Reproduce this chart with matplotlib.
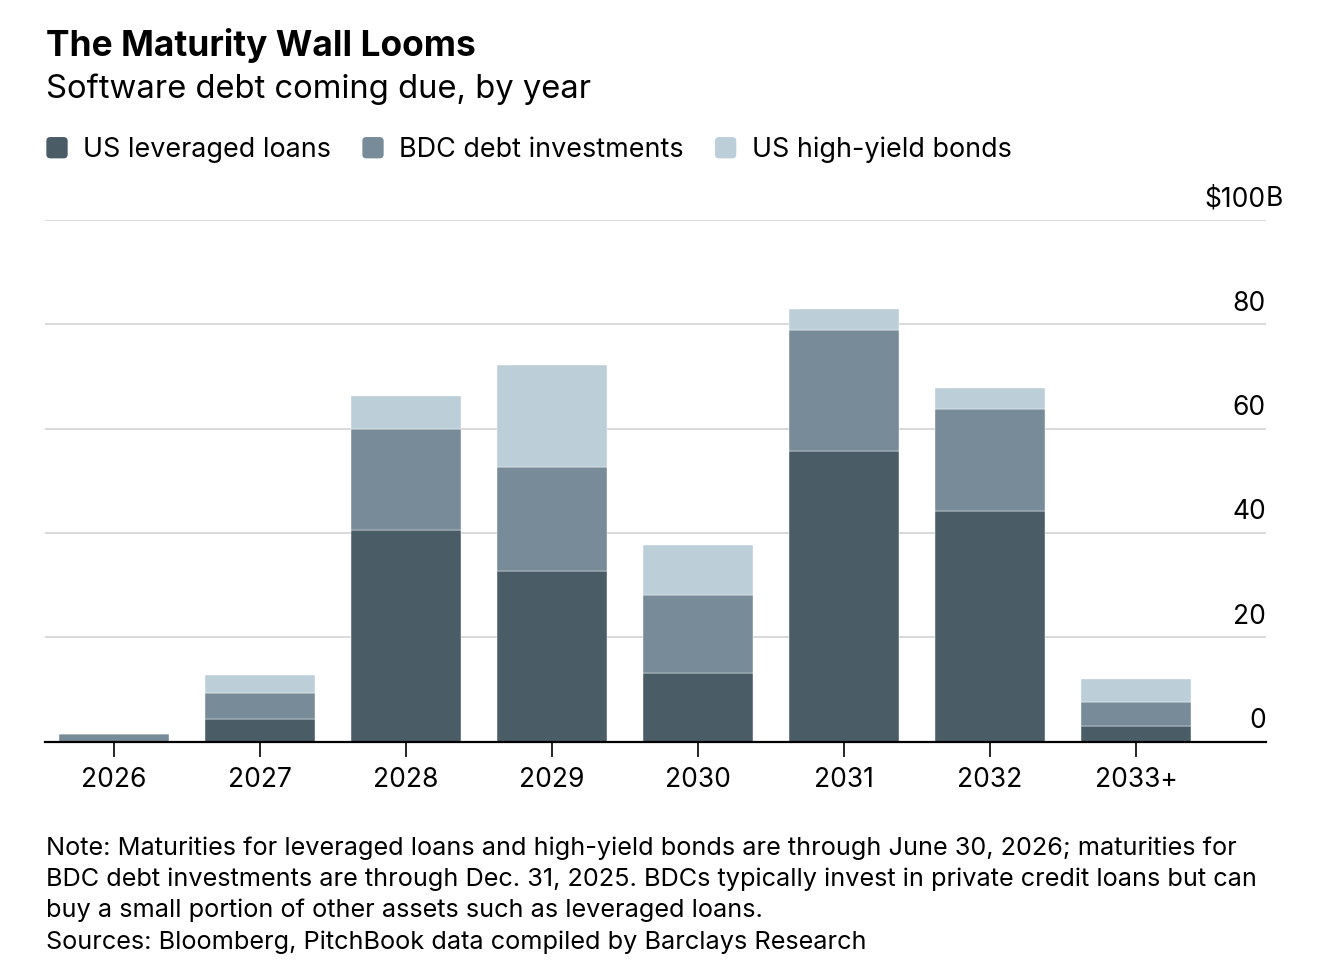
import matplotlib
matplotlib.use("Agg")
import matplotlib.pyplot as plt
import matplotlib.transforms as mtransforms
from matplotlib.patches import FancyBboxPatch
import numpy as np

plt.rcParams['font.family'] = ['Inter', 'DejaVu Sans']

# ---- data ----
years = ["2026", "2027", "2028", "2029", "2030", "2031", "2032", "2033+"]
lev_loans = [0.0, 4.4, 40.6, 32.6, 13.1, 55.7, 44.2, 3.0]
bdc_debt = [1.4, 4.85, 19.3, 20.0, 15.0, 23.3, 19.6, 4.6]
hy_bonds = [0.0, 3.45, 6.35, 19.65, 9.6, 3.9, 4.0, 4.4]
series_names = ["US leveraged loans", "BDC debt investments", "US high-yield bonds"]
y_ticks = [0, 20, 40, 60, 80, 100]

colors = ["#4a5d67", "#778c98", "#bccfd8"]

W, H = 1334, 964
fig = plt.figure(figsize=(W / 100, H / 100), dpi=100)

def fx(px):
    return px / W

def fy(py):
    return 1 - py / H

ax_left, ax_right, ax_top, ax_bot = 45, 1266, 220, 741.5
ax = fig.add_axes([fx(ax_left), fy(ax_bot), fx(ax_right - ax_left), (ax_bot - ax_top) / H])

x = np.arange(len(years))
bw = 0.75
bottom = np.zeros(len(years))
for vals, c in zip([lev_loans, bdc_debt, hy_bonds], colors):
    v = np.array(vals)
    ax.bar(x, v, bw, bottom=bottom, color=c, edgecolor='white', linewidth=0.3, zorder=3)
    bottom += v

ax.set_xlim(-0.4726, 7.89)
ax.set_ylim(0, 100)

for s in ['top', 'right', 'left']:
    ax.spines[s].set_visible(False)
ax.spines['bottom'].set_linewidth(1.6)
ax.spines['bottom'].set_color('black')
ax.spines['bottom'].set_zorder(5)

ax.set_xticks(x)
ax.set_xticklabels(years, fontsize=19)
ax.tick_params(axis='x', length=10.5, width=1.2, pad=8, color='black')
ax.set_yticks([])
for t in y_ticks[1:]:
    ax.axhline(t, color='#cfcfcf', linewidth=1.1, zorder=1)

trans = mtransforms.blended_transform_factory(ax.transAxes, ax.transData)
for t in y_ticks:
    lab = "$100" if t == 100 else str(t)
    ax.annotate(lab, xy=(1.0, t), xycoords=trans, xytext=(0, 5.5), textcoords='offset points',
                ha='right', va='bottom', fontsize=19, color='black')
    if t == 100:
        ax.annotate("B", xy=(1.0, t), xycoords=trans, xytext=(0, 5.5), textcoords='offset points',
                    ha='left', va='bottom', fontsize=19, color='black')

# titles
fig.text(fx(46), fy(56), "The Maturity Wall Looms", fontsize=25.4, fontweight='bold',
         va='baseline', ha='left')
fig.text(fx(46), fy(97.7), "Software debt coming due, by year", fontsize=23.6,
         va='baseline', ha='left')

# legend
fig.canvas.draw()
renderer = fig.canvas.get_renderer()
lx = 47
leg_base = 157
for name, c in zip(series_names, colors):
    sq = FancyBboxPatch((fx(lx + 2), fy(leg_base + 0.7) + 2 / H), fx(16), 16 / H,
                        boxstyle="round,pad=0.002,rounding_size=0.003",
                        transform=fig.transFigure, facecolor=c, edgecolor='none',
                        mutation_aspect=W / H)
    fig.patches.append(sq)
    t = fig.text(fx(lx + 36), fy(leg_base), name, fontsize=19.4, va='baseline', ha='left')
    bb = t.get_window_extent(renderer)
    lx = lx + 36 + bb.width + 32

notes = [
    "Note: Maturities for leveraged loans and high-yield bonds are through June 30, 2026; maturities for",
    "BDC debt investments are through Dec. 31, 2025. BDCs typically invest in private credit loans but can",
    "buy a small portion of other assets such as leveraged loans.",
    "Sources: Bloomberg, PitchBook data compiled by Barclays Research",
]
bases = [855, 886, 917, 948.5]
for s, b in zip(notes, bases):
    fig.text(fx(46), fy(b), s, fontsize=18.2, va='baseline', ha='left')

fig.savefig("out.png", dpi=100)
